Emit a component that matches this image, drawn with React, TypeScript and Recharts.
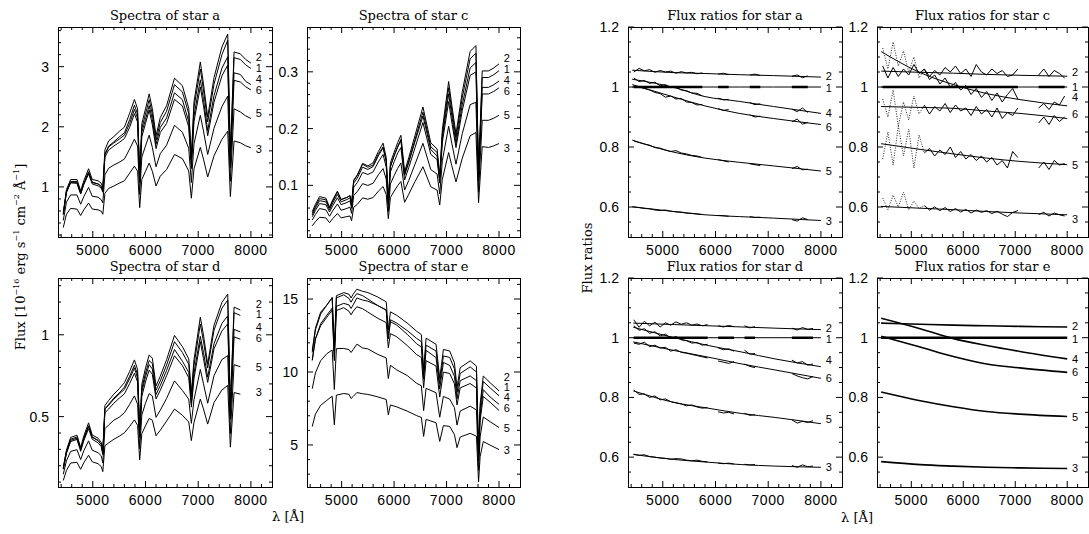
import { LineChart, Line, XAxis, YAxis, ReferenceArea, ReferenceDot } from 'recharts'

const _ = null

// shared wavelength axis (Å)
const X_DOMAIN: [number, number] = [4340, 8400]
const X_TICKS = [4400, 4600, 4800, 5000, 5200, 5400, 5600, 5800, 6000, 6200, 6400, 6600, 6800, 7000, 7200, 7400, 7600, 7800, 8000, 8200]
const X_LABELS = [5000, 6000, 7000, 8000]
const LABEL_X = 8150
const IMAGES = ['2', '1', '4', '6', '5', '3']
const OTHERS = ['2', '4', '6', '5', '3']

// spectral sampling for stars a, c, d
const WAVE = [
  4440, 4500, 4580, 4700, 4770, 4830, 4920, 4990, 5100, 5160,
  5190, 5230, 5300, 5400, 5500, 5600, 5700, 5790, 5850, 5890,
  5930, 6000, 6070, 6130, 6200, 6280, 6400, 6550, 6700, 6820,
  6870, 6920, 7040, 7100, 7180, 7300, 7450, 7560, 7610, 7680,
  7800, 7900, 8000,
]

// star a: image 1 flux, and ratios image k / image 1 on the same sampling
const A_F1 = [
  0.54, 0.91, 1.07, 1.07, 0.89, 1.05, 1.24, 1.07, 1.05, 1.01,
  0.94, 1.54, 1.68, 1.75, 1.83, 1.90, 2.12, 2.36, 2.21, 1.15,
  1.97, 2.21, 2.45, 2.21, 1.78, 2.07, 2.26, 2.70, 2.58, 2.22,
  1.45, 2.32, 2.96, 2.61, 2.08, 2.71, 3.20, 3.44, 1.50, 3.15,
  3.12, 3.03, 2.97,
]
const A_R2 = [
  1.05, 1.05, 1.05, 1.05, 1.05, 1.05, 1.05, 1.05, 1.05, 1.05,
  1.05, 1.05, 1.05, 1.05, 1.05, 1.05, 1.05, 1.04, 1.04, 1.04,
  1.04, 1.04, 1.04, 1.04, 1.04, 1.04, 1.04, 1.04, 1.04, 1.04,
  1.04, 1.04, 1.04, 1.04, 1.04, 1.04, 1.04, 1.03, 1.03, 1.03,
  1.03, 1.03, 1.03,
]
const A_R4 = [
  1.02, 1.02, 1.02, 1.02, 1.01, 1.01, 1.01, 1.01, 1.0, 1.0,
  1.0, 1.0, 0.99, 0.99, 0.98, 0.98, 0.97, 0.97, 0.97, 0.97,
  0.97, 0.96, 0.96, 0.96, 0.96, 0.96, 0.95, 0.95, 0.95, 0.94,
  0.94, 0.94, 0.94, 0.94, 0.93, 0.93, 0.93, 0.92, 0.92, 0.92,
  0.92, 0.91, 0.91,
]
const A_R6 = [
  1.01, 1.0, 1.0, 0.99, 0.99, 0.99, 0.98, 0.98, 0.97, 0.97,
  0.97, 0.97, 0.96, 0.96, 0.95, 0.95, 0.94, 0.94, 0.94, 0.93,
  0.93, 0.93, 0.93, 0.92, 0.92, 0.92, 0.91, 0.91, 0.91, 0.9,
  0.9, 0.9, 0.9, 0.9, 0.89, 0.89, 0.89, 0.88, 0.88, 0.88,
  0.88, 0.88, 0.88,
]
const A_R5 = [
  0.82, 0.82, 0.81, 0.81, 0.8, 0.8, 0.8, 0.79, 0.79, 0.78,
  0.78, 0.78, 0.78, 0.78, 0.77, 0.77, 0.77, 0.76, 0.76, 0.76,
  0.76, 0.76, 0.76, 0.75, 0.75, 0.75, 0.75, 0.75, 0.74, 0.74,
  0.74, 0.74, 0.74, 0.74, 0.74, 0.73, 0.73, 0.73, 0.73, 0.73,
  0.72, 0.72, 0.72,
]
const A_R3 = [
  0.6, 0.6, 0.6, 0.59, 0.59, 0.59, 0.59, 0.59, 0.59, 0.59,
  0.58, 0.58, 0.58, 0.58, 0.58, 0.58, 0.58, 0.57, 0.57, 0.57,
  0.57, 0.57, 0.57, 0.57, 0.57, 0.57, 0.57, 0.57, 0.57, 0.57,
  0.56, 0.56, 0.56, 0.56, 0.56, 0.56, 0.56, 0.56, 0.56, 0.56,
  0.556, 0.556, 0.556,
]

// star c
const C_F1 = [
  0.048, 0.060, 0.073, 0.071, 0.057, 0.069, 0.084, 0.071, 0.075, 0.078,
  0.064, 0.104, 0.113, 0.132, 0.128, 0.133, 0.152, 0.166, 0.142, 0.070,
  0.133, 0.152, 0.169, 0.181, 0.119, 0.143, 0.181, 0.229, 0.168, 0.158,
  0.113, 0.191, 0.272, 0.232, 0.183, 0.255, 0.323, 0.333, 0.120, 0.290,
  0.290, 0.295, 0.302,
]
const C_R2 = [
  1.05, 1.05, 1.05, 1.05, 1.05, 1.05, 1.05, 1.05, 1.05, 1.05,
  1.05, 1.05, 1.05, 1.05, 1.05, 1.05, 1.05, 1.05, 1.05, 1.05,
  1.05, 1.04, 1.04, 1.04, 1.04, 1.04, 1.04, 1.04, 1.04, 1.04,
  1.04, 1.04, 1.04, 1.04, 1.04, 1.04, 1.04, 1.04, 1.04, 1.04,
  1.04, 1.04, 1.04,
]
const C_R4 = [
  1.12, 1.11, 1.1, 1.09, 1.08, 1.08, 1.07, 1.06, 1.05, 1.05,
  1.05, 1.04, 1.04, 1.04, 1.03, 1.02, 1.02, 1.01, 1.01, 1.0,
  1.0, 1.0, 0.99, 0.99, 0.99, 0.98, 0.98, 0.97, 0.97, 0.96,
  0.96, 0.96, 0.96, 0.96, 0.95, 0.95, 0.95, 0.95, 0.95, 0.94,
  0.94, 0.94, 0.94,
]
const C_R6 = [
  0.93, 0.93, 0.93, 0.93, 0.93, 0.93, 0.93, 0.93, 0.93, 0.93,
  0.93, 0.93, 0.93, 0.93, 0.93, 0.93, 0.93, 0.93, 0.93, 0.93,
  0.93, 0.93, 0.93, 0.92, 0.92, 0.92, 0.92, 0.92, 0.92, 0.92,
  0.92, 0.92, 0.91, 0.91, 0.91, 0.91, 0.91, 0.9, 0.9, 0.9,
  0.9, 0.9, 0.9,
]
const C_R5 = [
  0.81, 0.81, 0.81, 0.8, 0.8, 0.8, 0.8, 0.79, 0.79, 0.79,
  0.79, 0.79, 0.79, 0.78, 0.78, 0.78, 0.78, 0.78, 0.78, 0.77,
  0.77, 0.77, 0.77, 0.77, 0.77, 0.76, 0.76, 0.76, 0.76, 0.76,
  0.75, 0.75, 0.75, 0.75, 0.75, 0.75, 0.75, 0.74, 0.74, 0.74,
  0.74, 0.74, 0.74,
]
const C_R3 = [
  0.6, 0.6, 0.6, 0.6, 0.6, 0.6, 0.6, 0.6, 0.6, 0.59,
  0.59, 0.59, 0.59, 0.59, 0.59, 0.59, 0.59, 0.59, 0.59, 0.59,
  0.59, 0.59, 0.59, 0.59, 0.59, 0.59, 0.59, 0.58, 0.58, 0.58,
  0.58, 0.58, 0.58, 0.58, 0.58, 0.58, 0.58, 0.58, 0.58, 0.58,
  0.575, 0.575, 0.575,
]

// star d (spectra stop near 7830 Å)
const D_F1 = [
  0.18, 0.28, 0.355, 0.368, 0.297, 0.364, 0.44, 0.373, 0.354, 0.33,
  0.278, 0.546, 0.575, 0.613, 0.644, 0.68, 0.747, 0.814, 0.757, 0.40,
  0.67, 0.766, 0.843, 0.824, 0.661, 0.718, 0.815, 0.958, 0.892, 0.82,
  0.62, 0.815, 1.065, 0.96, 0.797, 1.028, 1.163, 1.212, 0.55, 1.135,
  1.118, _, _,
]
const D_R2 = [
  1.05, 1.05, 1.05, 1.05, 1.05, 1.05, 1.05, 1.04, 1.04, 1.04,
  1.04, 1.04, 1.04, 1.04, 1.04, 1.04, 1.04, 1.04, 1.04, 1.04,
  1.04, 1.04, 1.04, 1.04, 1.04, 1.04, 1.04, 1.04, 1.04, 1.04,
  1.04, 1.04, 1.04, 1.04, 1.03, 1.03, 1.03, 1.03, 1.03, 1.03,
  1.03, 1.03, 1.03,
]
const D_R4 = [
  1.03, 1.03, 1.02, 1.02, 1.02, 1.01, 1.01, 1.01, 1.0, 1.0,
  1.0, 1.0, 0.99, 0.99, 0.99, 0.98, 0.98, 0.98, 0.97, 0.97,
  0.97, 0.97, 0.97, 0.96, 0.96, 0.96, 0.96, 0.95, 0.94, 0.94,
  0.94, 0.94, 0.93, 0.93, 0.93, 0.92, 0.92, 0.92, 0.92, 0.91,
  0.91, 0.91, 0.9,
]
const D_R6 = [
  0.99, 0.98, 0.98, 0.98, 0.97, 0.97, 0.97, 0.97, 0.96, 0.96,
  0.96, 0.96, 0.95, 0.95, 0.95, 0.94, 0.94, 0.94, 0.94, 0.93,
  0.93, 0.93, 0.93, 0.92, 0.92, 0.92, 0.92, 0.91, 0.91, 0.9,
  0.9, 0.9, 0.9, 0.89, 0.89, 0.89, 0.88, 0.88, 0.88, 0.87,
  0.87, 0.87, 0.86,
]
const D_R5 = [
  0.82, 0.82, 0.81, 0.81, 0.8, 0.8, 0.8, 0.79, 0.79, 0.79,
  0.78, 0.78, 0.78, 0.78, 0.77, 0.77, 0.77, 0.77, 0.76, 0.76,
  0.76, 0.76, 0.76, 0.76, 0.75, 0.75, 0.75, 0.75, 0.74, 0.74,
  0.74, 0.74, 0.74, 0.73, 0.73, 0.73, 0.73, 0.72, 0.72, 0.72,
  0.72, 0.72, 0.71,
]
const D_R3 = [
  0.61, 0.61, 0.61, 0.6, 0.6, 0.6, 0.6, 0.6, 0.6, 0.59,
  0.59, 0.59, 0.59, 0.59, 0.59, 0.59, 0.59, 0.59, 0.59, 0.59,
  0.59, 0.58, 0.58, 0.58, 0.58, 0.58, 0.58, 0.57, 0.57, 0.57,
  0.57, 0.57, 0.57, 0.57, 0.57, 0.57, 0.57, 0.57, 0.57, 0.57,
  0.57, 0.57, 0.57,
]

// star e has its own sampling (narrow Balmer / telluric lines)
const WAVE_E = [
  4440, 4500, 4600, 4720, 4820, 4861, 4900, 5040, 5140, 5180,
  5220, 5290, 5400, 5500, 5680, 5850, 5890, 5930, 6050, 6250,
  6430, 6520, 6563, 6610, 6800, 6870, 6940, 7060, 7150, 7200,
  7260, 7450, 7570, 7610, 7640, 7700, 7830, 8000,
]
const E_F1 = [
  10.8, 12.26, 13.3, 13.9, 14.38, 11.0, 14.5, 14.7, 14.6, 14.35,
  14.6, 15.07, 14.93, 14.85, 14.57, 14.24, 12.4, 13.58, 13.35, 12.84,
  12.3, 12.08, 9.8, 11.84, 11.44, 9.2, 11.1, 11.0, 10.22, 8.6,
  9.9, 10.35, 10.0, 4.4, 7.5, 9.35, 8.91, 8.37,
]
const E_R2 = [
  1.05, 1.05, 1.05, 1.05, 1.05, 1.05, 1.05, 1.05, 1.05, 1.05,
  1.05, 1.04, 1.04, 1.04, 1.04, 1.04, 1.04, 1.04, 1.04, 1.04,
  1.04, 1.04, 1.04, 1.04, 1.04, 1.04, 1.04, 1.04, 1.04, 1.04,
  1.04, 1.04, 1.04, 1.04, 1.04, 1.04, 1.04, 1.04,
]
const E_R4 = [
  1.06, 1.06, 1.06, 1.05, 1.05, 1.04, 1.04, 1.04, 1.03, 1.03,
  1.03, 1.02, 1.02, 1.01, 1.0, 1.0, 0.99, 0.99, 0.99, 0.98,
  0.97, 0.97, 0.97, 0.97, 0.96, 0.96, 0.96, 0.95, 0.95, 0.95,
  0.95, 0.94, 0.94, 0.94, 0.94, 0.94, 0.93, 0.93,
]
const E_R6 = [
  1.0, 1.0, 0.99, 0.99, 0.99, 0.98, 0.98, 0.98, 0.97, 0.97,
  0.97, 0.96, 0.96, 0.95, 0.94, 0.94, 0.94, 0.93, 0.93, 0.92,
  0.91, 0.91, 0.91, 0.91, 0.91, 0.9, 0.9, 0.9, 0.9, 0.9,
  0.9, 0.89, 0.89, 0.89, 0.89, 0.89, 0.89, 0.88,
]
const E_R5 = [
  0.82, 0.81, 0.81, 0.81, 0.8, 0.8, 0.8, 0.79, 0.79, 0.79,
  0.79, 0.79, 0.78, 0.78, 0.77, 0.77, 0.77, 0.77, 0.76, 0.76,
  0.75, 0.75, 0.75, 0.75, 0.75, 0.75, 0.75, 0.74, 0.74, 0.74,
  0.74, 0.74, 0.74, 0.74, 0.74, 0.74, 0.74, 0.74,
]
const E_R3 = [
  0.58, 0.58, 0.58, 0.58, 0.58, 0.58, 0.58, 0.58, 0.58, 0.57,
  0.57, 0.57, 0.57, 0.57, 0.57, 0.57, 0.57, 0.57, 0.57, 0.57,
  0.57, 0.57, 0.57, 0.57, 0.57, 0.57, 0.57, 0.57, 0.56, 0.56,
  0.56, 0.56, 0.56, 0.56, 0.56, 0.56, 0.56, 0.56,
]

// smooth ratio fits (nodes)
const FIT_WAVE_A = [4420, 5200, 5800, 6450, 7100, 8000]
const A_FIT2 = [1.056, 1.048, 1.045, 1.041, 1.038, 1.033]
const A_FIT4 = [1.026, 0.999, 0.968, 0.952, 0.935, 0.912]
const A_FIT6 = [1.008, 0.967, 0.937, 0.912, 0.895, 0.875]
const A_FIT5 = [0.823, 0.783, 0.763, 0.749, 0.737, 0.72]
const A_FIT3 = [0.601, 0.585, 0.574, 0.568, 0.563, 0.555]

const FIT_WAVE_C = [4420, 5170, 5810, 6450, 7090, 8000]
const C_FIT2 = [1.053, 1.049, 1.046, 1.042, 1.039, 1.036]
const C_FIT4 = [1.118, 1.048, 1.008, 0.978, 0.958, 0.937]
const C_FIT6 = [0.935, 0.932, 0.929, 0.92, 0.912, 0.895]
const C_FIT5 = [0.811, 0.792, 0.777, 0.763, 0.752, 0.741]
const C_FIT3 = [0.602, 0.596, 0.591, 0.585, 0.58, 0.574]

const FIT_WAVE_D = [4440, 5220, 5860, 6500, 7130, 8000]
const D_FIT2 = [1.049, 1.044, 1.04, 1.036, 1.032, 1.027]
const D_FIT4 = [1.035, 1.0, 0.974, 0.952, 0.929, 0.903]
const D_FIT6 = [0.986, 0.957, 0.935, 0.912, 0.892, 0.864]
const D_FIT5 = [0.822, 0.783, 0.764, 0.746, 0.733, 0.712]
const D_FIT3 = [0.609, 0.592, 0.583, 0.575, 0.57, 0.566]

const FIT_WAVE_E = [4420, 5170, 5810, 6450, 7090, 8000]
const E_FIT2 = [1.049, 1.045, 1.042, 1.04, 1.038, 1.036]
const E_FIT4 = [1.065, 1.03, 0.997, 0.974, 0.954, 0.929]
const E_FIT6 = [1.005, 0.969, 0.937, 0.912, 0.899, 0.884]
const E_FIT5 = [0.818, 0.789, 0.769, 0.753, 0.744, 0.736]
const E_FIT3 = [0.585, 0.575, 0.57, 0.566, 0.564, 0.562]

// measured ratios, binned every 100 Å (null = masked)
const NOISE_WAVE = [
  4450, 4550, 4650, 4750, 4850, 4950, 5050, 5150, 5250, 5350,
  5450, 5550, 5650, 5750, 5850, 5950, 6050, 6150, 6250, 6350,
  6450, 6550, 6650, 6750, 6850, 6950, 7050, 7150, 7250, 7350,
  7450, 7550, 7650, 7750, 7850, 7950,
]
const A_OBS2 = [
  1.05, 1.062, 1.054, 1.058, 1.049, 1.055, 1.05, 1.053, 1.046, 1.051,
  1.047, 1.049, 1.044, 1.047, _, _, 1.043, 1.046, 1.041, _,
  _, _, 1.04, 1.043, 1.038, _, _, _, _, _,
  1.036, 1.04, 1.031, 1.037, _, _,
]
const A_OBS4 = [
  1.03, 1.018, 1.022, 1.012, 1.016, 1.004, 1.008, 0.998, 1.0, 0.99,
  0.988, 0.98, 0.979, 0.97, _, _, 0.963, 0.957, 0.959, _,
  _, _, 0.948, 0.941, 0.944, _, _, _, _, _,
  0.926, 0.918, 0.93, 0.915, _, _,
]
const A_OBS6 = [
  1.004, 1.0, 0.995, 0.99, 0.982, 0.978, 0.966, 0.97, 0.96, 0.962,
  0.95, 0.948, 0.94, 0.942, _, _, 0.928, 0.922, 0.925, _,
  _, _, 0.907, 0.9, 0.903, _, _, _, _, _,
  0.884, 0.893, 0.876, 0.882, _, _,
]
const A_OBS5 = [
  0.82, 0.815, 0.81, 0.806, 0.798, 0.796, 0.79, 0.785, 0.788, 0.78,
  0.777, 0.772, 0.77, 0.765, _, _, 0.758, 0.754, 0.75, _,
  _, _, 0.744, 0.741, 0.738, _, _, _, _, _,
  0.728, 0.735, 0.724, 0.726, _, _,
]
const A_OBS3 = [
  0.6, 0.598, 0.595, 0.594, 0.59, 0.588, 0.59, 0.586, 0.584, 0.583,
  0.58, 0.579, 0.577, 0.575, _, _, 0.572, 0.571, 0.569, _,
  _, _, 0.568, 0.565, 0.566, _, _, _, _, _,
  0.558, 0.553, 0.564, 0.558, _, _,
]

const C_OBS2 = [
  1.07, 1.03, 1.065, 1.035, 1.06, 1.04, 1.075, 1.045, 1.06, 1.035,
  1.055, 1.04, 1.065, 1.05, 1.07, 1.045, 1.06, 1.035, 1.075, 1.05,
  1.04, 1.06, 1.045, 1.055, 1.035, 1.04, 1.06, _, _, _,
  1.04, 1.06, 1.035, 1.055, 1.045, 1.03,
]
const C_OBS4 = [
  _, _, _, _, _, _, _, _, 1.06, 1.025,
  1.04, 1.01, 1.03, 1.0, 1.015, 0.99, 1.005, 0.975, 0.995, 0.965,
  0.985, 0.955, 0.98, 0.95, 0.975, 0.995, 0.96, _, _, _,
  0.93, 0.945, 0.925, 0.95, 0.94, 0.97,
]
const C_OBS6 = [
  _, _, _, _, _, _, _, _, 0.94, 0.91,
  0.935, 0.92, 0.945, 0.915, 0.94, 0.92, 0.93, 0.905, 0.935, 0.91,
  0.925, 0.9, 0.93, 0.895, 0.915, 0.905, 0.93, _, _, _,
  0.88, 0.9, 0.875, 0.905, 0.885, 0.9,
]
const C_OBS5 = [
  _, _, _, _, _, _, _, _, 0.78, 0.795,
  0.77, 0.79, 0.775, 0.8, 0.765, 0.785, 0.76, 0.775, 0.755, 0.77,
  0.75, 0.765, 0.74, 0.755, 0.73, 0.785, 0.765, _, _, _,
  0.73, 0.75, 0.725, 0.755, 0.74, 0.745,
]
const C_OBS3 = [
  _, _, _, _, _, _, _, _, 0.605, 0.59,
  0.6, 0.588, 0.598, 0.585, 0.595, 0.583, 0.592, 0.58, 0.59, 0.582,
  0.588, 0.578, 0.586, 0.576, 0.568, 0.582, 0.588, _, _, _,
  0.575, 0.582, 0.57, 0.58, 0.574, 0.57,
]
// low-weight blue end of star c (dotted)
const BLUE_WAVE = [4450, 4550, 4650, 4750, 4850, 4950, 5050, 5150, 5250]
const C_BLUE4 = [1.13, 1.06, 1.15, 1.07, 1.12, 1.05, 1.1, 1.03, 1.06]
const C_BLUE6 = [0.96, 0.9, 0.99, 0.87, 0.95, 0.89, 0.97, 0.91, 0.94]
const C_BLUE5 = [0.76, 0.85, 0.74, 0.87, 0.77, 0.86, 0.73, 0.84, 0.78]
const C_BLUE3 = [0.63, 0.59, 0.64, 0.6, 0.65, 0.59, 0.62, 0.595, 0.605]

const D_OBS2 = [
  1.06, 1.035, 1.055, 1.04, 1.052, 1.036, 1.05, 1.042, 1.053, 1.045,
  1.05, 1.042, 1.046, 1.04, 1.044, _, 1.04, 1.036, 1.041, 1.037,
  _, 1.04, 1.033, 1.037, _, _, _, _, _, _,
  1.032, 1.026, 1.034, 1.028, 1.031, _,
]
const D_OBS4 = [
  1.04, 1.025, 1.03, 1.015, 1.02, 1.006, 1.012, 0.998, 1.004, 0.993,
  0.99, 0.982, 0.984, 0.975, 0.978, _, 0.966, 0.96, 0.963, 0.955,
  _, 0.958, 0.945, 0.947, _, _, _, _, _, _,
  0.925, 0.915, 0.92, 0.908, 0.912, _,
]
const D_OBS6 = [
  0.982, 0.978, 0.985, 0.97, 0.975, 0.965, 0.968, 0.955, 0.96, 0.951,
  0.948, 0.944, 0.94, 0.936, 0.932, _, 0.922, 0.918, 0.914, 0.92,
  _, 0.912, 0.904, 0.9, _, _, _, _, _, _,
  0.88, 0.872, 0.866, 0.862, 0.87, _,
]
const D_OBS5 = [
  0.825, 0.81, 0.812, 0.8, 0.805, 0.792, 0.795, 0.786, 0.782, 0.778,
  0.772, 0.775, 0.768, 0.764, 0.766, _, 0.752, 0.748, 0.75, 0.745,
  _, 0.747, 0.74, 0.742, _, _, _, _, _, _,
  0.725, 0.714, 0.72, 0.716, 0.722, _,
]
const D_OBS3 = [
  0.61, 0.606, 0.608, 0.602, 0.6, 0.597, 0.596, 0.593, 0.595, 0.594,
  0.59, 0.588, 0.59, 0.586, 0.584, _, 0.58, 0.578, 0.58, 0.577,
  _, 0.576, 0.574, 0.575, _, _, _, _, _, _,
  0.572, 0.566, 0.574, 0.568, 0.57, _,
]

// y ticks
const A_MAJOR = [1, 2, 3]
const A_MINOR = [0.2, 0.4, 0.6, 0.8, 1.2, 1.4, 1.6, 1.8, 2.2, 2.4, 2.6, 2.8, 3.2, 3.4, 3.6]
const C_MAJOR = [0.1, 0.2, 0.3]
const C_MINOR = [0.02, 0.04, 0.06, 0.08, 0.12, 0.14, 0.16, 0.18, 0.22, 0.24, 0.26, 0.28, 0.32, 0.34, 0.36]
const D_MAJOR = [0.5, 1]
const D_MINOR = [0.1, 0.2, 0.3, 0.4, 0.6, 0.7, 0.8, 0.9, 1.1, 1.2, 1.3]
const E_MAJOR = [5, 10, 15]
const E_MINOR = [3, 4, 6, 7, 8, 9, 11, 12, 13, 14, 16]
const R_MAJOR = [0.6, 0.8, 1, 1.2]
const R_MINOR = [0.55, 0.65, 0.7, 0.75, 0.85, 0.9, 0.95, 1.05, 1.1, 1.15]

const ML = 50
const MT = 24
const MR = 6
const MB = 30
const SANS = '"Liberation Sans", Arial, Helvetica, sans-serif'
const SERIF = '"DejaVu Serif", "Liberation Serif", serif'

type Series = (number | null)[]
type Box = {
  title: string
  left: number
  top: number
  w: number
  h: number
  yDomain: [number, number]
  yMajor: number[]
  yMinor: number[]
  labelDy: Record<string, number>
}
type SpecPanel = Box & { wave: number[]; flux1: Series; ratio: Record<string, number[]> }
type RatioPanel = Box & {
  fitWave: number[]
  fit: Record<string, number[]>
  obs?: Record<string, Series>
  blue?: Record<string, number[]>
  fitWidth: number
}

const SPECTRA: SpecPanel[] = [
  {
    title: 'Spectra of star a', left: 58, top: 27, w: 214, h: 210,
    yDomain: [0.167, 3.66], yMajor: A_MAJOR, yMinor: A_MINOR,
    wave: WAVE, flux1: A_F1, ratio: { '2': A_R2, '4': A_R4, '6': A_R6, '5': A_R5, '3': A_R3 },
    labelDy: { '2': -6, '1': -0.5, '4': -5.5, '6': 0, '5': -5, '3': 1 },
  },
  {
    title: 'Spectra of star c', left: 307, top: 27, w: 213, h: 210,
    yDomain: [0.009, 0.379], yMajor: C_MAJOR, yMinor: C_MINOR,
    wave: WAVE, flux1: C_F1, ratio: { '2': C_R2, '4': C_R4, '6': C_R6, '5': C_R5, '3': C_R3 },
    labelDy: { '2': -6, '1': -1.5, '4': -0.5, '6': 3.5, '5': 0, '3': 4 },
  },
  {
    title: 'Spectra of star d', left: 58, top: 278, w: 214, h: 209,
    yDomain: [0.07, 1.347], yMajor: D_MAJOR, yMinor: D_MINOR,
    wave: WAVE, flux1: D_F1, ratio: { '2': D_R2, '4': D_R4, '6': D_R6, '5': D_R5, '3': D_R3 },
    labelDy: { '2': -6, '1': -1, '4': -5, '6': -1, '5': 0, '3': -2 },
  },
  {
    title: 'Spectra of star e', left: 307, top: 278, w: 213, h: 209,
    yDomain: [2.12, 16.44], yMajor: E_MAJOR, yMinor: E_MINOR,
    wave: WAVE_E, flux1: E_F1, ratio: { '2': E_R2, '4': E_R4, '6': E_R6, '5': E_R5, '3': E_R3 },
    labelDy: { '2': -14, '1': -9, '4': -7, '6': -2, '5': 0, '3': 0 },
  },
]

const RATIOS: RatioPanel[] = [
  {
    title: 'Flux ratios for star a', left: 628, top: 27, w: 214, h: 210,
    yDomain: [0.5, 1.2], yMajor: R_MAJOR, yMinor: R_MINOR, fitWidth: 1,
    fitWave: FIT_WAVE_A, fit: { '2': A_FIT2, '4': A_FIT4, '6': A_FIT6, '5': A_FIT5, '3': A_FIT3 },
    obs: { '2': A_OBS2, '4': A_OBS4, '6': A_OBS6, '5': A_OBS5, '3': A_OBS3 },
    labelDy: { '2': -1, '1': 1, '4': 0, '6': 2, '5': 0, '3': 0 },
  },
  {
    title: 'Flux ratios for star c', left: 877, top: 27, w: 211, h: 210,
    yDomain: [0.5, 1.2], yMajor: R_MAJOR, yMinor: R_MINOR, fitWidth: 1,
    fitWave: FIT_WAVE_C, fit: { '2': C_FIT2, '4': C_FIT4, '6': C_FIT6, '5': C_FIT5, '3': C_FIT3 },
    obs: { '2': C_OBS2, '4': C_OBS4, '6': C_OBS6, '5': C_OBS5, '3': C_OBS3 },
    blue: { '4': C_BLUE4, '6': C_BLUE6, '5': C_BLUE5, '3': C_BLUE3 },
    labelDy: { '2': -4, '1': 0, '4': -9, '6': -5, '5': 0, '3': 4 },
  },
  {
    title: 'Flux ratios for star d', left: 628, top: 278, w: 214, h: 209,
    yDomain: [0.5, 1.2], yMajor: R_MAJOR, yMinor: R_MINOR, fitWidth: 1,
    fitWave: FIT_WAVE_D, fit: { '2': D_FIT2, '4': D_FIT4, '6': D_FIT6, '5': D_FIT5, '3': D_FIT3 },
    obs: { '2': D_OBS2, '4': D_OBS4, '6': D_OBS6, '5': D_OBS5, '3': D_OBS3 },
    labelDy: { '2': -2, '1': 1, '4': -7, '6': 0, '5': -5, '3': 0 },
  },
  {
    title: 'Flux ratios for star e', left: 877, top: 278, w: 211, h: 209,
    yDomain: [0.5, 1.2], yMajor: R_MAJOR, yMinor: R_MINOR, fitWidth: 1.6,
    fitWave: FIT_WAVE_E, fit: { '2': E_FIT2, '4': E_FIT4, '6': E_FIT6, '5': E_FIT5, '3': E_FIT3 },
    labelDy: { '2': -1, '1': 1, '4': 0, '6': 0, '5': 0, '3': 0 },
  },
]

// inward ticks on all four sides, drawn from the bottom / left axes
function xTick(h: number) {
  return (props: any) => {
    const v = props.payload.value
    const x = props.x
    const major = X_LABELS.includes(v)
    const len = major ? 6 : 3
    const yb = MT + h
    return (
      <g>
        <line x1={x} x2={x} y1={yb} y2={yb - len} stroke="#000" />
        <line x1={x} x2={x} y1={MT} y2={MT + len} stroke="#000" />
        {major && (
          <text x={x} y={yb + 18} textAnchor="middle" fontFamily={SANS} fontSize={14} letterSpacing={0.6} fill="#000">
            {v}
          </text>
        )}
      </g>
    )
  }
}

function yTick(w: number, major: number[]) {
  return (props: any) => {
    const v = props.payload.value
    const y = props.y
    const isMajor = major.includes(v)
    const len = isMajor ? 6 : 3
    return (
      <g>
        <line x1={ML} x2={ML + len} y1={y} y2={y} stroke="#000" />
        <line x1={ML + w} x2={ML + w - len} y1={y} y2={y} stroke="#000" />
        {isMajor && (
          <text x={ML - 9} y={y + 5} textAnchor="end" fontFamily={SANS} fontSize={14} fill="#000">
            {String(v)}
          </text>
        )}
      </g>
    )
  }
}

// curve names at the red end; small and tightly stacked
function endLabel(text: string, dy: number) {
  return (props: any) => {
    const vb = props.viewBox || {}
    const x = (vb.x || 0) + (vb.width || 0) / 2
    const y = (vb.y || 0) + (vb.height || 0) / 2
    return (
      <text x={x} y={y + dy + 4} textAnchor="middle" fontFamily={SANS} fontSize={11} fill="#000">
        {text}
      </text>
    )
  }
}

function frame(p: Box) {
  const ticks = [...p.yMajor, ...p.yMinor].sort((a, b) => a - b)
  return [
    <XAxis
      key="x" type="number" dataKey="w" domain={X_DOMAIN} allowDataOverflow ticks={X_TICKS} interval={0}
      tick={xTick(p.h)} tickLine={false} axisLine={false} height={MB}
    />,
    <YAxis
      key="y" type="number" domain={p.yDomain} allowDataOverflow ticks={ticks} interval={0}
      tick={yTick(p.w, p.yMajor)} tickLine={false} axisLine={false} width={ML}
    />,
    <ReferenceArea
      key="frame" x1={X_DOMAIN[0]} x2={X_DOMAIN[1]} y1={p.yDomain[0]} y2={p.yDomain[1]}
      fill="none" fillOpacity={0} stroke="#000" strokeWidth={1} shapeRendering="crispEdges"
    />,
  ]
}

function SpectrumChart({ p }: { p: SpecPanel }) {
  const rows = p.wave.map((w, i) => {
    const f = p.flux1[i]
    const row: Record<string, number | null> = { w, s1: f }
    OTHERS.forEach((k) => {
      row['s' + k] = f == null ? null : f * p.ratio[k][i]
    })
    return row
  })
  const last = rows.reduce((acc, r, i) => (r.s1 != null ? i : acc), 0)
  return (
    <div style={{ position: 'absolute', left: p.left - ML, top: p.top - MT }}>
      <LineChart width={ML + p.w + MR} height={MT + p.h + MB} data={rows} margin={{ top: MT, right: MR, bottom: 0, left: 0 }}>
        {frame(p)}
        {IMAGES.map((k) => (
          <Line
            key={k} dataKey={'s' + k} type="linear" stroke="#000" strokeWidth={1}
            dot={false} activeDot={false} isAnimationActive={false}
          />
        ))}
        {IMAGES.map((k) => (
          <ReferenceDot
            key={'lab' + k} x={LABEL_X} y={rows[last]['s' + k] as number} r={0}
            fill="none" stroke="none" label={endLabel(k, p.labelDy[k])}
          />
        ))}
      </LineChart>
    </div>
  )
}

function RatioChart({ p }: { p: RatioPanel }) {
  const fitRows = p.fitWave.map((w, i) => {
    const row: Record<string, number> = { w, f1: 1 }
    OTHERS.forEach((k) => {
      row['f' + k] = p.fit[k][i]
    })
    return row
  })
  const obs = p.obs
  const obsRows = obs
    ? NOISE_WAVE.map((w, i) => {
        const row: Record<string, number | null> = { w, o1: obs['2'][i] == null ? null : 1 }
        OTHERS.forEach((k) => {
          row['o' + k] = obs[k][i]
        })
        return row
      })
    : []
  const blue = p.blue
  const blueRows = blue
    ? BLUE_WAVE.map((w, i) => {
        const row: Record<string, number> = { w }
        Object.keys(blue).forEach((k) => {
          row['b' + k] = blue[k][i]
        })
        return row
      })
    : []
  const lastFit = fitRows[fitRows.length - 1]
  return (
    <div style={{ position: 'absolute', left: p.left - ML, top: p.top - MT }}>
      <LineChart width={ML + p.w + MR} height={MT + p.h + MB} data={fitRows} margin={{ top: MT, right: MR, bottom: 0, left: 0 }}>
        {frame(p)}
        {IMAGES.map((k) => (
          <Line
            key={'fit' + k} data={fitRows} dataKey={'f' + k} type="monotone" stroke="#000"
            strokeWidth={k === '1' && !obs ? 2.4 : p.fitWidth}
            dot={false} activeDot={false} isAnimationActive={false}
          />
        ))}
        {obs && (
          <Line
            key="obs1" data={obsRows} dataKey="o1" type="linear" stroke="#000" strokeWidth={2.6}
            dot={false} activeDot={false} isAnimationActive={false}
          />
        )}
        {obs &&
          OTHERS.map((k) => (
            <Line
              key={'obs' + k} data={obsRows} dataKey={'o' + k} type="linear" stroke="#000" strokeWidth={1}
              dot={false} activeDot={false} isAnimationActive={false}
            />
          ))}
        {blue &&
          Object.keys(blue).map((k) => (
            <Line
              key={'blue' + k} data={blueRows} dataKey={'b' + k} type="linear" stroke="#222" strokeWidth={1}
              strokeDasharray="1 1.5" dot={false} activeDot={false} isAnimationActive={false}
            />
          ))}
        {IMAGES.map((k) => (
          <ReferenceDot
            key={'lab' + k} x={LABEL_X} y={lastFit['f' + k]} r={0}
            fill="none" stroke="none" label={endLabel(k, p.labelDy[k])}
          />
        ))}
      </LineChart>
    </div>
  )
}

export default function App() {
  const panels: Box[] = [...SPECTRA, ...RATIOS]
  return (
    <div style={{ position: 'absolute', left: 0, top: 0, width: 1089, height: 534, overflow: 'hidden', background: '#fff' }}>
      {SPECTRA.map((p) => (
        <SpectrumChart key={p.title} p={p} />
      ))}
      {RATIOS.map((p) => (
        <RatioChart key={p.title} p={p} />
      ))}
      <svg width={1089} height={534} style={{ position: 'absolute', left: 0, top: 0, pointerEvents: 'none' }}>
        {panels.map((p) => (
          <text key={p.title} x={p.left + p.w / 2} y={p.top - 7} textAnchor="middle" fontFamily={SERIF} fontSize={13} fill="#000">
            {p.title}
          </text>
        ))}
        <text transform="translate(25 257) rotate(-90)" textAnchor="middle" fontFamily={SERIF} fontSize={13} fill="#000">
          Flux [10<tspan dy={-6} fontSize={8}>−16</tspan>
          <tspan dy={6}> erg s</tspan>
          <tspan dy={-6} fontSize={8}>−1</tspan>
          <tspan dy={6}> cm</tspan>
          <tspan dy={-6} fontSize={8}>−2</tspan>
          <tspan dy={6}> Å</tspan>
          <tspan dy={-6} fontSize={8}>−1</tspan>
          <tspan dy={6}>]</tspan>
        </text>
        <text transform="translate(592 258) rotate(-90)" textAnchor="middle" fontFamily={SERIF} fontSize={13} fill="#000">
          Flux ratios
        </text>
        <text x={288} y={521} textAnchor="middle" fontFamily={SERIF} fontSize={13} fill="#000">
          λ [Å]
        </text>
        <text x={857} y={522} textAnchor="middle" fontFamily={SERIF} fontSize={13} fill="#000">
          λ [Å]
        </text>
      </svg>
    </div>
  )
}
